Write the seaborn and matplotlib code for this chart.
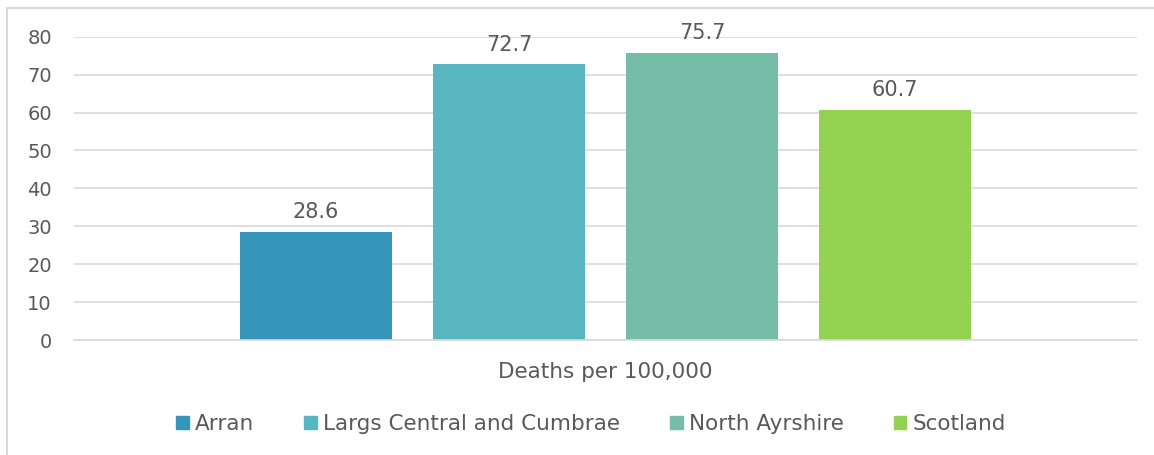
import pandas as pd
import seaborn as sns
import matplotlib.pyplot as plt
from matplotlib.patches import Rectangle
from matplotlib.lines import Line2D

areas = ['Arran', 'Largs Central and Cumbrae', 'North Ayrshire', 'Scotland']
deaths = [28.6, 72.7, 75.7, 60.7]
category = ['Deaths per 100,000'] * 4
colors = ['#3494BA', '#58B6C0', '#75BDA7', '#93D250']
yticks = [0, 10, 20, 30, 40, 50, 60, 70, 80]

df = pd.DataFrame({'Measure': category, 'Area': areas, 'Value': deaths})

sns.set_style('white')
plt.rcParams['font.family'] = ['DejaVu Sans']
txt = '#595959'
grid = '#D9D9D9'
fs = 14

fig = plt.figure(figsize=(11.54, 4.55), dpi=100)
ax = fig.add_axes([74 / 1154, 1 - 340 / 455, 1063 / 1154, (340 - 36.7) / 455])
sns.barplot(data=df, x='Measure', y='Value', hue='Area', palette=colors,
            width=0.726, gap=0.21, ax=ax, legend=False, saturation=1,
            linewidth=0)

ax.set_xlim(-0.5, 0.5)
ax.set_ylim(0, 80)
ax.set_yticks(yticks)
ax.yaxis.grid(True, color=grid, linewidth=1.2)
ax.set_axisbelow(True)
for s in ['top', 'right', 'left']:
    ax.spines[s].set_visible(False)
ax.spines['bottom'].set_color(grid)
ax.spines['bottom'].set_linewidth(1.2)
ax.tick_params(axis='both', length=0, labelsize=fs, colors=txt)
ax.yaxis.set_tick_params(pad=16)
ax.set_xticks([])
ax.set_xlabel('Deaths per 100,000', fontsize=15.5, color=txt, labelpad=16)
ax.set_ylabel('')

for c in ax.containers:
    ax.bar_label(c, fmt='%.1f', padding=7, fontsize=15, color=txt)

handles = [Rectangle((0, 0), 1, 1, color=c) for c in colors]
fig.legend(handles, areas, loc='center', bbox_to_anchor=(591 / 1154, 1 - 424 / 455),
           ncol=4, frameon=False, fontsize=15.5, labelcolor=txt,
           handlelength=0.6, handleheight=0.6, handletextpad=0.3, columnspacing=2.3)

# chart border: only top and left edges are visible in the crop
top = 1 - 8 / 455
left = 7 / 1154
fig.add_artist(Line2D([left, 1], [top, top], transform=fig.transFigure, color=grid, lw=1.5))
fig.add_artist(Line2D([left, left], [0, top], transform=fig.transFigure, color=grid, lw=1.5))

fig.savefig('out.png', dpi=100)
